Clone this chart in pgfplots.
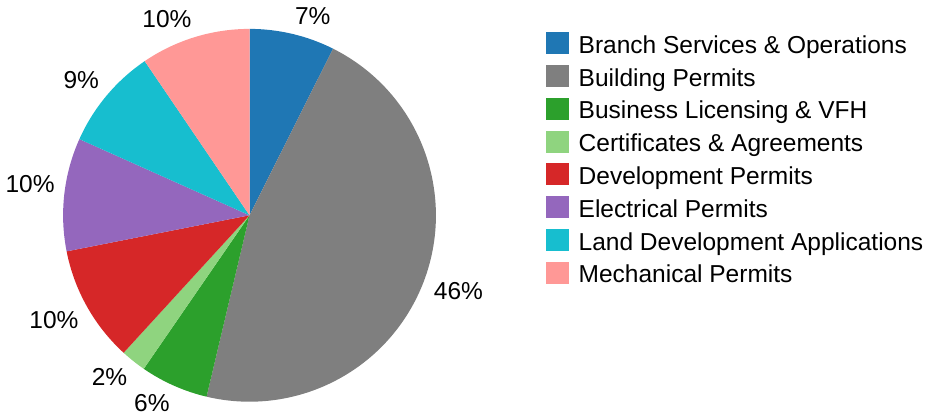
\documentclass[border=0pt]{standalone}
\usepackage{pgfplots}
\pgfplotsset{compat=1.18}
\usepackage{pgfplotstable}
\usepackage{fontspec}
\setmainfont{Liberation Sans}

\definecolor{cBranch}{HTML}{1F77B4}
\definecolor{cBuilding}{HTML}{7F7F7F}
\definecolor{cBusiness}{HTML}{2CA02C}
\definecolor{cCert}{HTML}{8FD47F}
\definecolor{cDev}{HTML}{D62728}
\definecolor{cElec}{HTML}{9467BD}
\definecolor{cLand}{HTML}{17BECF}
\definecolor{cMech}{HTML}{FF9896}

% share of each service in percent
\pgfplotstableread[col sep=semicolon]{
name;value;col
Branch Services \& Operations;7.4;cBranch
Building Permits;46.3;cBuilding
Business Licensing \& VFH;5.9;cBusiness
Certificates \& Agreements;2.2;cCert
Development Permits;10.1;cDev
Electrical Permits;9.8;cElec
Land Development Applications;8.8;cLand
Mechanical Permits;9.5;cMech
}\pietable

\newcommand\lbl{\fontsize{12.25}{14}\selectfont}

\begin{document}
\begin{tikzpicture}
\begin{axis}[
    scale only axis,
    width=472pt, height=206.5pt,
    xmin=0, xmax=944, ymin=0, ymax=413,
    y dir=reverse,
    hide axis,
    clip=false
]
\path (rel axis cs:0,0) rectangle (rel axis cs:1,1);
\def\cum{0}
\pgfplotsforeachungrouped \idx in {0,...,7}{%
  \pgfplotstablegetelem{\idx}{value}\of\pietable \let\sv\pgfplotsretval
  \pgfplotstablegetelem{\idx}{col}\of\pietable \let\sc\pgfplotsretval
  \pgfplotstablegetelem{\idx}{name}\of\pietable \let\nm\pgfplotsretval
  \pgfmathsetmacro\sa{90-3.6*\cum}%
  \pgfmathsetmacro\sb{90-3.6*(\cum+\sv)}%
  \pgfmathsetmacro\sm{(\sa+\sb)/2}%
  \pgfmathtruncatemacro\pct{round(\sv)}%
  \pgfmathsetmacro\sy{sin(\sm)}%
  \pgfmathsetmacro\sx{cos(\sm)}%
  \ifdim\sy pt>0pt \def\va{south}\else\def\va{north}\fi
  \ifdim\sx pt>0pt \def\ha{west}\else\def\ha{east}\fi
  \pgfmathsetmacro\ly{32.3+32.8*\idx}%
  \pgfmathsetmacro\lyb{\ly+22}%
  \pgfmathsetmacro\lbase{53.3+32.8*\idx}%
  \edef\temp{%
    \noexpand\fill[\sc] (axis cs:249.5,215.3) -- ++(\sa:93.2pt)
      arc[start angle=\sa, end angle=\sb, radius=93.2pt] -- cycle;
    \noexpand\node[anchor=\va\space\ha, inner sep=0pt, font=\noexpand\lbl]
      at ([shift={(\sm:97.9pt)}]axis cs:249.5,215.3) {\pct\noexpand\%};
    \noexpand\fill[\sc] (axis cs:546,\ly) rectangle (axis cs:569,\lyb);
    \noexpand\node[anchor=base west, inner sep=0pt, font=\noexpand\lbl]
      at (axis cs:578.3,\lbase) {\unexpanded\expandafter{\nm}};
  }%
  \temp
  \pgfmathsetmacro\cum{\cum+\sv}%
}
\end{axis}
\end{tikzpicture}
\end{document}
